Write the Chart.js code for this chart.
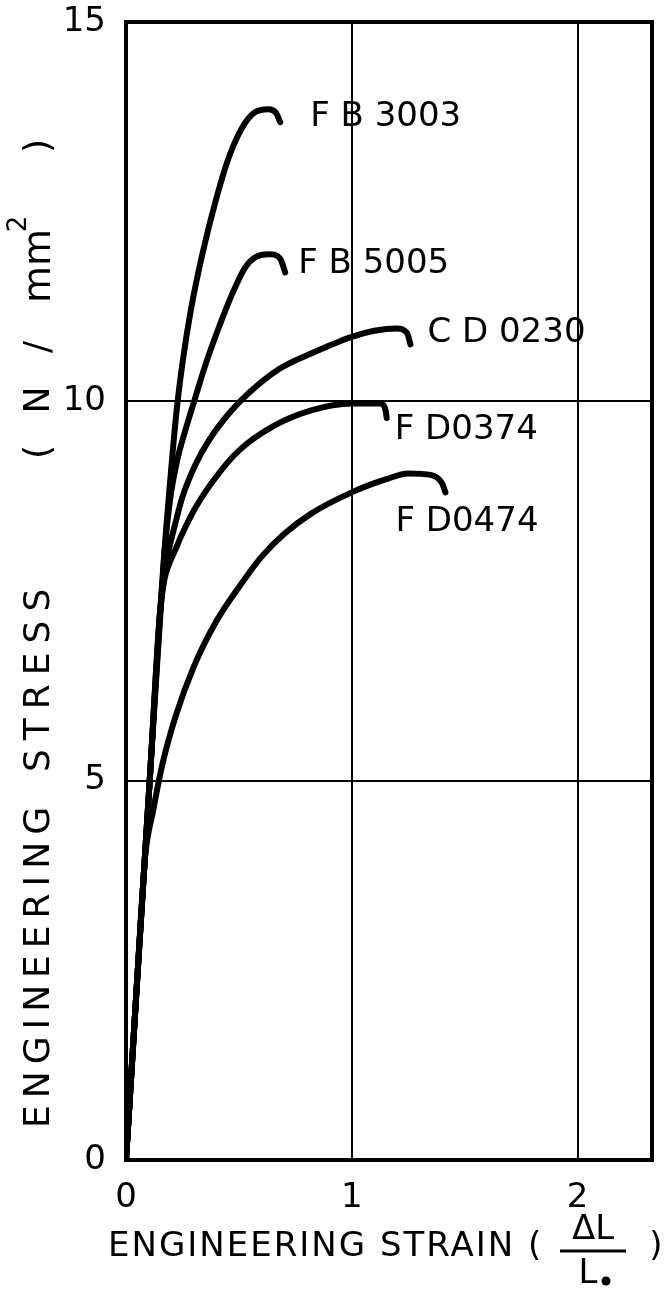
<!DOCTYPE html>
<html>
<head>
<meta charset="utf-8">
<script src="https://cdn.jsdelivr.net/npm/chart.js@4"></script>
<style>
  html, body { margin: 0; padding: 0; background: #fff; }
  #wrap { width: 671px; height: 1300px; }
</style>
</head>
<body>
<div id="wrap"><canvas id="stressChart" width="671" height="1300"></canvas></div>
<script>
// curves: strain (dL/Lo) vs stress (N/mm2)

const fb3003Strain = [0, 0.05, 0.105, 0.17, 0.2, 0.225, 0.25, 0.287, 0.339, 0.398, 0.456, 0.515, 0.571, 0.632, 0.665, 0.683];
const fb3003Stress = [0, 2.4, 5, 8, 9.1, 9.9, 10.5, 11.2, 11.95, 12.65, 13.22, 13.61, 13.81, 13.85, 13.8, 13.68];

const fb5005Strain = [0, 0.05, 0.105, 0.17, 0.195, 0.225, 0.266, 0.303, 0.354, 0.412, 0.471, 0.529, 0.573, 0.632, 0.683, 0.705];
const fb5005Stress = [0, 2.4, 5, 8, 8.7, 9.2, 9.65, 10.01, 10.5, 10.98, 11.42, 11.77, 11.9, 11.94, 11.88, 11.7];

const cd0230Strain = [0, 0.05, 0.105, 0.15, 0.17, 0.19, 0.215, 0.25, 0.31, 0.368, 0.456, 0.54, 0.675, 0.82, 1.0, 1.1, 1.2, 1.245, 1.26];
const cd0230Stress = [0, 2.4, 5, 7.2, 7.75, 8.05, 8.35, 8.74, 9.18, 9.49, 9.84, 10.1, 10.42, 10.63, 10.85, 10.93, 10.96, 10.9, 10.75];

const fd0374Strain = [0, 0.05, 0.105, 0.15, 0.17, 0.19, 0.215, 0.25, 0.31, 0.398, 0.5, 0.645, 0.82, 1.0, 1.13, 1.15, 1.155];
const fd0374Stress = [0, 2.4, 5, 7.2, 7.65, 7.85, 8.02, 8.26, 8.61, 9.0, 9.35, 9.66, 9.88, 9.97, 9.97, 9.88, 9.78];

const fd0474Strain = [0, 0.05, 0.085, 0.12, 0.16, 0.22, 0.3, 0.4, 0.5, 0.6, 0.7, 0.82, 1.0, 1.15, 1.25, 1.35, 1.4, 1.415];
const fd0474Stress = [0, 2.4, 4.0, 4.6, 5.2, 5.85, 6.5, 7.1, 7.55, 7.95, 8.25, 8.52, 8.8, 8.97, 9.05, 9.03, 8.92, 8.8];

const seriesNames = ['F B 3003', 'F B 5005', 'C D 0230', 'F D0374', 'F D0474'];
const xTicks = [0, 1, 2];
const yTicks = [0, 5, 10, 15];

function toPoints(xs, ys) {
  return xs.map((x, i) => ({ x: x, y: ys[i] }));
}

const allStrain = [fb3003Strain, fb5005Strain, cd0230Strain, fd0374Strain, fd0474Strain];
const allStress = [fb3003Stress, fb5005Stress, cd0230Stress, fd0374Stress, fd0474Stress];

// label offsets from the end of each curve (px)
const labelOffsets = [[30, -5], [13, -8], [17, -11], [8, 12], [-50, 30]];

const FONT = '"DejaVu Sans", sans-serif';

const curveLabels = {
  id: 'curveLabels',
  afterDatasetsDraw(chart) {
    const ctx = chart.ctx;
    const xs = chart.scales.x, ys = chart.scales.y;
    ctx.save();
    ctx.fillStyle = '#000';
    ctx.font = '34px ' + FONT;
    ctx.textBaseline = 'middle';
    ctx.textAlign = 'left';
    seriesNames.forEach((name, i) => {
      const sx = allStrain[i], sy = allStress[i];
      const n = sx.length - 1;
      const px = xs.getPixelForValue(sx[n]);
      const py = ys.getPixelForValue(sy[n]);
      ctx.fillText(name, px + labelOffsets[i][0], py + labelOffsets[i][1]);
    });
    ctx.restore();
  }
};

const frameAndTitles = {
  id: 'frameAndTitles',
  afterDraw(chart) {
    const ctx = chart.ctx;
    const a = chart.chartArea;
    ctx.save();
    // frame
    ctx.strokeStyle = '#000';
    ctx.lineWidth = 4;
    ctx.strokeRect(a.left, a.top, a.right - a.left, a.bottom - a.top);

    ctx.fillStyle = '#000';
    // x title with fraction
    ctx.font = '34px ' + FONT;
    ctx.letterSpacing = '2px';
    ctx.textBaseline = 'middle';
    ctx.textAlign = 'left';
    ctx.fillText('ENGINEERING STRAIN (', 108, 1247);
    ctx.letterSpacing = '0px';
    ctx.textAlign = 'center';
    ctx.fillText('\u0394L', 593, 1230);
    ctx.lineWidth = 3;
    ctx.beginPath();
    ctx.moveTo(560, 1251);
    ctx.lineTo(626, 1251);
    ctx.stroke();
    ctx.fillText('L', 588, 1274);
    ctx.beginPath();
    ctx.arc(606, 1281, 4.5, 0, Math.PI * 2);
    ctx.fill();
    ctx.fillText(')', 656, 1247);

    // y title, rotated; text x runs up the page
    ctx.translate(40, 0);
    ctx.rotate(-Math.PI / 2);
    ctx.font = '36px ' + FONT;
    ctx.textAlign = 'left';
    ctx.letterSpacing = '7px';
    ctx.fillText('ENGINEERING', -1128, 0);
    ctx.letterSpacing = '9px';
    ctx.fillText('STRESS', -772, 0);
    ctx.letterSpacing = '0px';
    ctx.textAlign = 'center';
    ctx.fillText('(', -452, 0);
    ctx.fillText('N', -400, 0);
    ctx.fillText('/', -347, 0);
    ctx.font = '38px ' + FONT;
    ctx.fillText('mm', -266, 0);
    ctx.font = '26px ' + FONT;
    ctx.fillText('2', -224, -21);
    ctx.font = '36px ' + FONT;
    ctx.fillText(')', -146, 0);
    ctx.restore();
  }
};

const ctx = document.getElementById('stressChart');
const stressChart = new Chart(ctx, {
  type: 'line',
  data: {
    datasets: seriesNames.map((name, i) => ({
      label: name,
      data: toPoints(allStrain[i], allStress[i]),
      borderColor: '#000',
      borderWidth: 6,
      pointRadius: 0,
      fill: false,
      cubicInterpolationMode: 'monotone',
      borderCapStyle: 'round'
    }))
  },
  options: {
    responsive: false,
    animation: false,
    layout: { padding: { top: 22, right: 19, left: 0, bottom: 0 } },
    plugins: {
      legend: { display: false },
      tooltip: { enabled: false }
    },
    scales: {
      x: {
        type: 'linear',
        min: 0,
        max: 2.33,
        afterFit(s) { s.height = 140; s.paddingLeft = 0; s.paddingRight = 0; },
        afterBuildTicks(s) { s.ticks = xTicks.map(v => ({ value: v })); },
        grid: { color: '#000', lineWidth: 2, drawTicks: false },
        border: { color: '#000', width: 4 },
        ticks: { color: '#000', font: { family: FONT, size: 34 }, padding: 18 }
      },
      y: {
        min: 0,
        max: 15,
        afterFit(s) { s.width = 126; s.paddingTop = 0; s.paddingBottom = 0; },
        afterBuildTicks(s) { s.ticks = yTicks.map(v => ({ value: v })); },
        grid: { color: '#000', lineWidth: 2, drawTicks: false },
        border: { color: '#000', width: 4 },
        ticks: { color: '#000', font: { family: FONT, size: 34 }, padding: 20 }
      }
    }
  },
  plugins: [curveLabels, frameAndTitles]
});
</script>
</body>
</html>
